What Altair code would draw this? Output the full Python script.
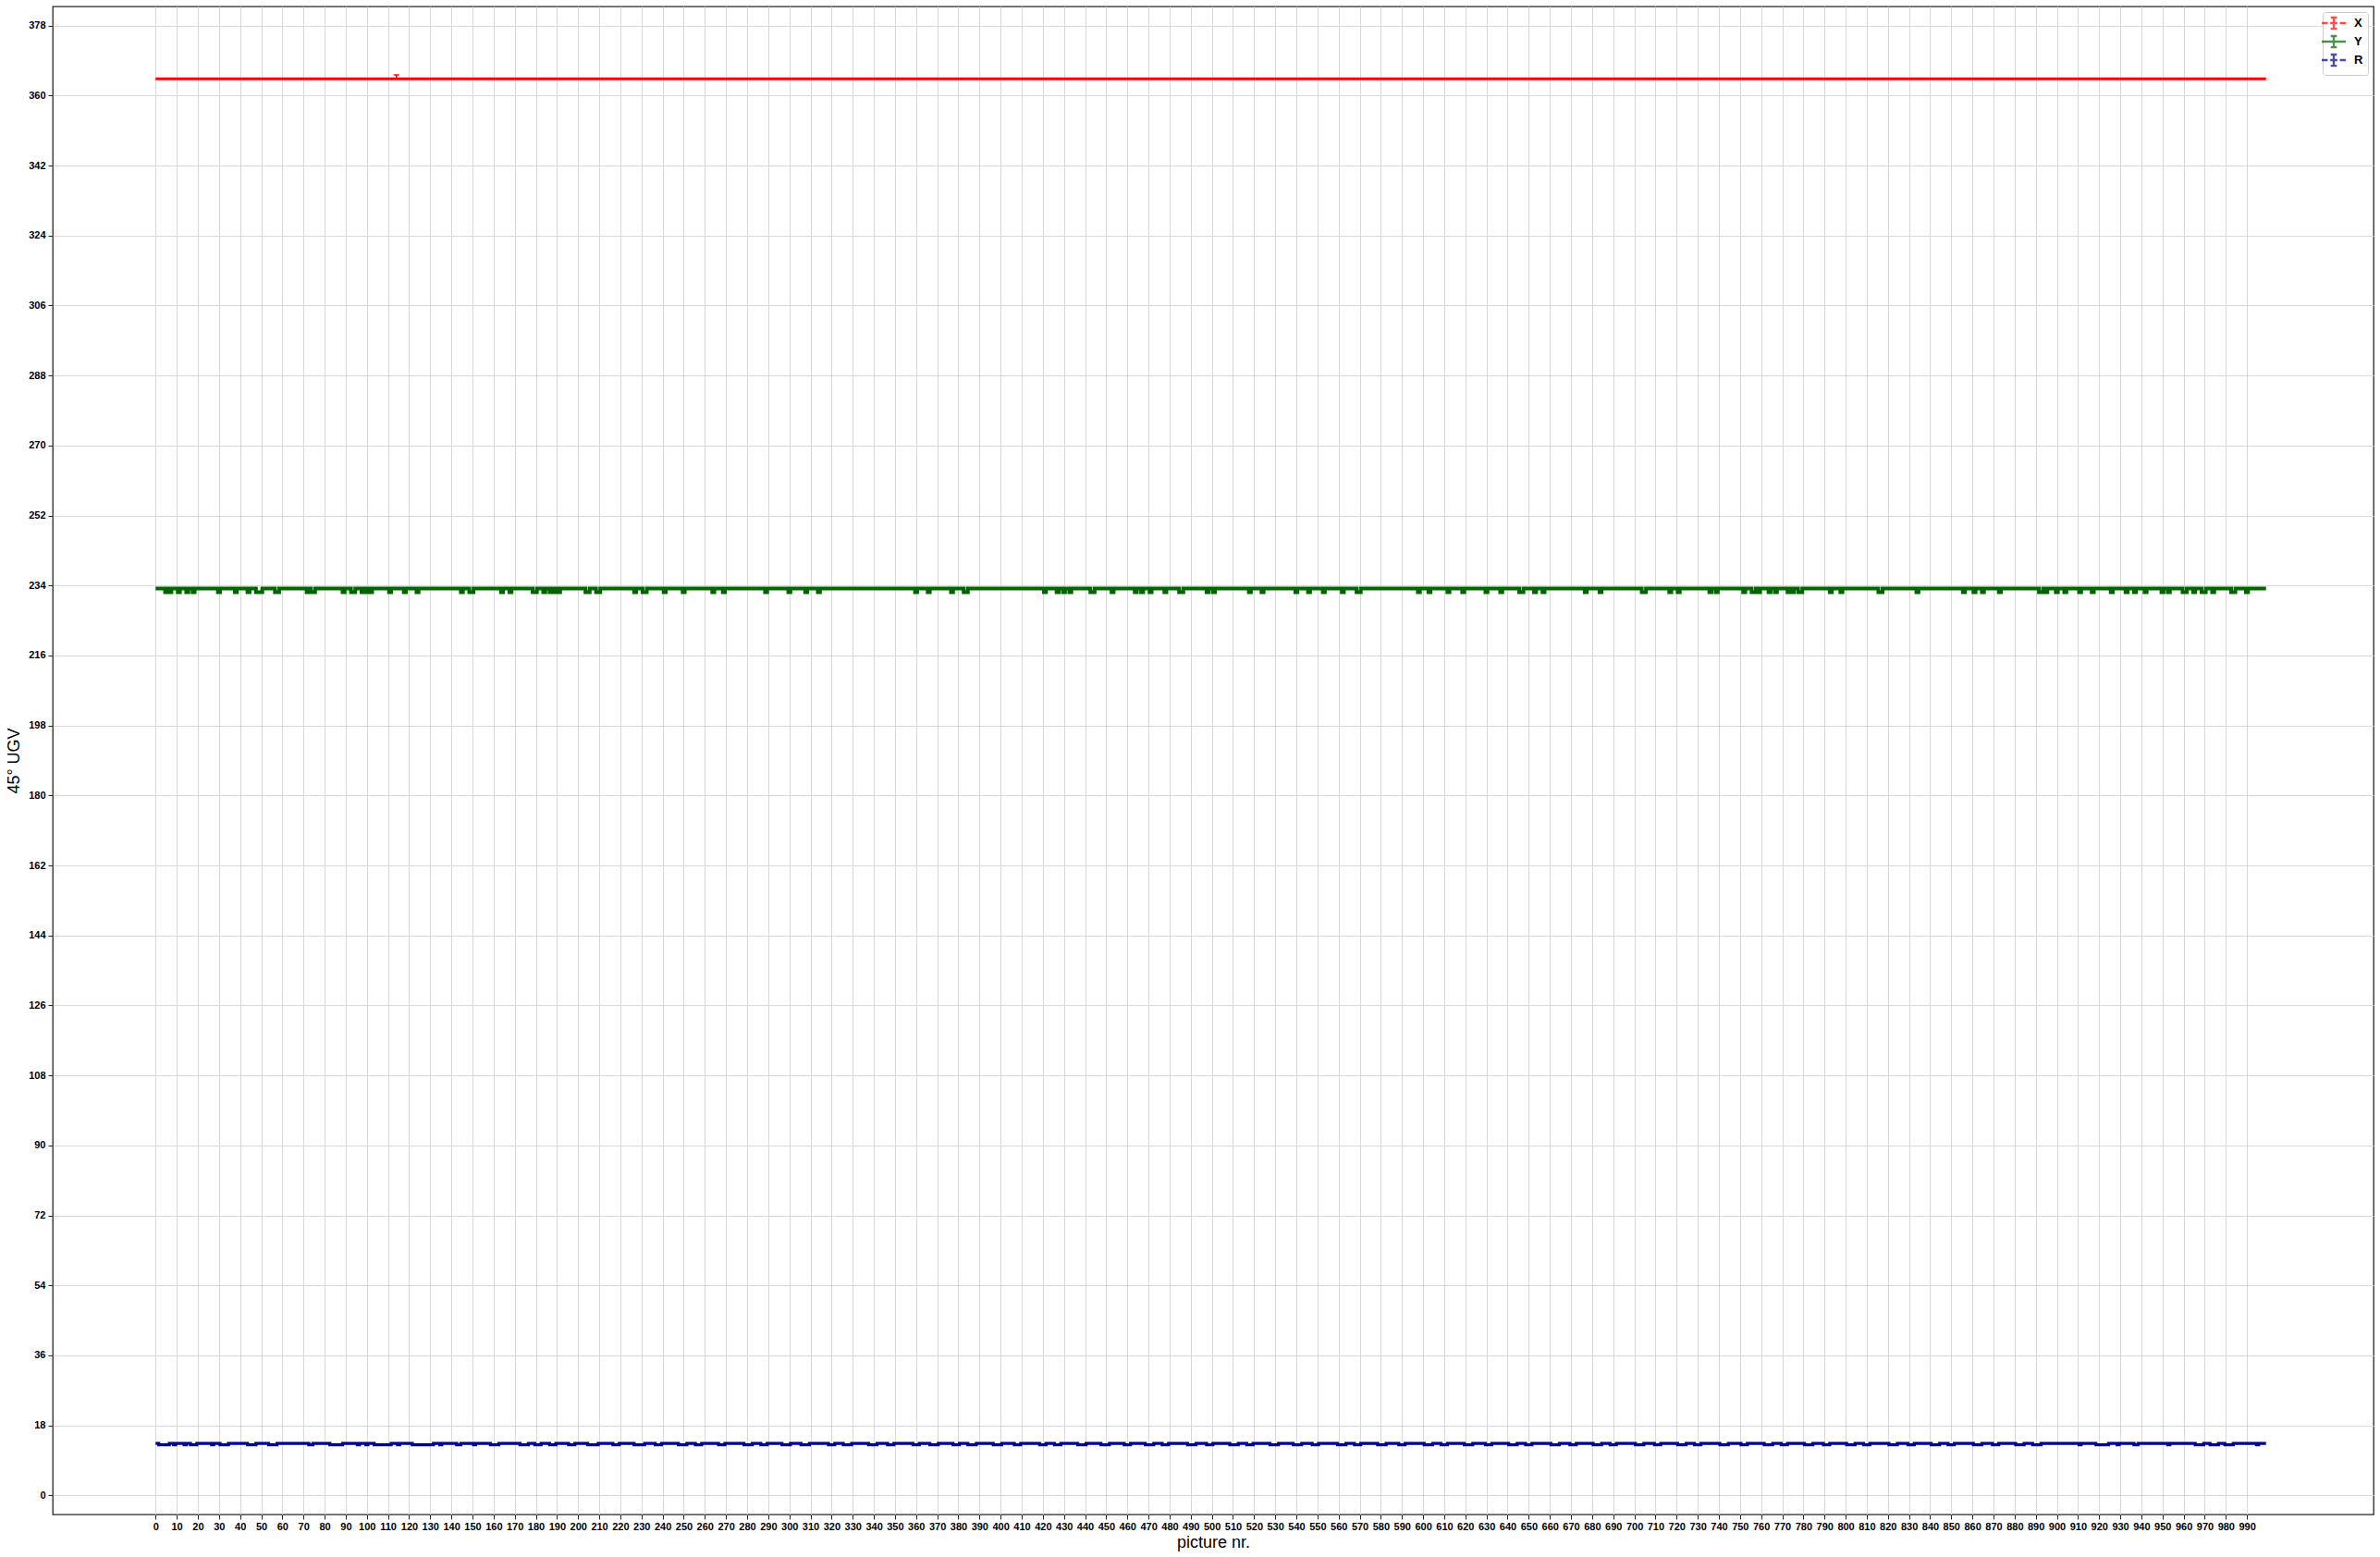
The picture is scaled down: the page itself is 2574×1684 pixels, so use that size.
import altair as alt
import pandas as pd

# ---------------- data ----------------
N_POINTS = 1000
picture_nr = list(range(N_POINTS))

series_names = ["X", "Y", "R"]
series_colors = ["#ff0000", "#006400", "#00008b"]

# X: flat level
X_LEVEL = 364.3
# one visible error bar on X
x_err_nr = [114]
x_err_up = [1.0]

# Y: flat level with short dips
Y_LEVEL = 233.25
Y_LOW = 232.3
y_dip_nr = [5, 7, 11, 15, 18, 30, 38, 44, 48, 49, 50, 57, 58, 72, 74, 75, 89, 93, 94,
            98, 100, 102, 111, 118, 124, 145, 149, 150, 164, 168, 179, 180, 184, 187,
            189, 191, 204, 205, 209, 210, 227, 231, 232, 241, 250, 264, 269, 289, 300,
            308, 314, 360, 366, 377, 383, 384, 421, 427, 430, 433, 443, 444, 453, 464,
            467, 471, 478, 485, 486, 498, 501, 518, 524, 540, 546, 553, 562, 569, 570,
            598, 603, 612, 619, 630, 637, 646, 647, 653, 657, 677, 684, 704, 705, 717,
            721, 736, 739, 752, 756, 757, 759, 764, 767, 773, 775, 778, 779, 793, 798,
            816, 817, 834, 856, 861, 865, 873, 892, 893, 895, 900, 904, 911, 917, 926,
            933, 937, 942, 950, 953, 960, 961, 965, 969, 970, 974, 983, 984, 990]

# R: alternates between two levels; runs (first, last) at the high level
R_HIGH = 13.4
R_LOW = 13.0
r_high_runs = [(0, 1), (7, 8), (10, 13), (15, 16), (20, 26), (28, 30), (35, 43), (48, 53),
               (58, 68), (69, 72), (75, 79), (80, 82), (89, 95), (97, 99), (101, 103),
               (112, 114), (116, 121), (132, 134), (136, 142), (145, 150), (152, 158),
               (163, 166), (167, 172), (177, 179), (183, 186), (190, 195), (199, 204),
               (210, 216), (220, 226), (232, 236), (240, 247), (252, 255), (259, 266),
               (270, 278), (283, 286), (290, 296), (301, 305), (310, 318), (322, 325),
               (330, 337), (342, 346), (350, 358), (362, 366), (371, 377), (381, 384),
               (389, 396), (401, 406), (410, 418), (422, 425), (429, 436), (441, 447),
               (452, 458), (462, 468), (473, 476), (480, 488), (493, 497), (501, 508),
               (513, 516), (520, 527), (532, 538), (543, 547), (551, 559), (564, 567),
               (571, 578), (583, 588), (592, 600), (605, 608), (612, 619), (624, 629),
               (633, 640), (645, 648), (652, 660), (665, 669), (673, 680), (685, 688),
               (692, 700), (705, 709), (713, 720), (725, 728), (732, 740), (745, 750),
               (754, 761), (766, 769), (773, 780), (785, 789), (793, 800), (805, 808),
               (812, 820), (825, 829), (833, 840), (845, 848), (852, 860), (865, 869),
               (873, 880), (885, 888), (893, 910), (912, 918), (925, 928), (930, 936),
               (939, 952), (954, 965), (970, 972), (977, 979), (984, 994), (996, 999)]

x_tick_values = list(range(0, 1000, 10))
y_tick_values = list(range(0, 379, 18))

# ---------------- tables ----------------
y_dip_set = set(y_dip_nr)
r_high_set = set()
for a, b in r_high_runs:
    r_high_set.update(range(a, b + 1))

df_x = pd.DataFrame({"nr": picture_nr, "value": [X_LEVEL] * N_POINTS})
df_y = pd.DataFrame({"nr": picture_nr,
                     "value": [Y_LOW if i in y_dip_set else Y_LEVEL for i in picture_nr]})
df_r = pd.DataFrame({"nr": picture_nr,
                     "value": [R_HIGH if i in r_high_set else R_LOW for i in picture_nr]})
df_err = pd.DataFrame({"nr": x_err_nr,
                       "lo": [X_LEVEL] * len(x_err_nr),
                       "hi": [X_LEVEL + e for e in x_err_up]})
df_leg = pd.DataFrame({"series": series_names,
                       "nr": [0, 0, 0],
                       "value": [X_LEVEL, Y_LEVEL, R_HIGH]})

X_DOMAIN = [-48.7, 1049.9]
Y_DOMAIN = [-4.9, 382.9]

x_axis = alt.Axis(values=x_tick_values, title="picture nr.", labelAngle=0,
                  labelOverlap=False, labelFlush=False, labelBound=False,
                  titleY=35, titleBaseline="alphabetic")
y_axis = alt.Axis(values=y_tick_values, title="45° UGV", labelOverlap=False,
                  labelFlush=False, titleX=-37, titleY=815.5,
                  titleAngle=-90, titleAlign="center", titleBaseline="alphabetic")
x_scale = alt.Scale(domain=X_DOMAIN, nice=False, zero=False)
y_scale = alt.Scale(domain=Y_DOMAIN, nice=False, zero=False)


def xe(field="nr"):
    return alt.X(f"{field}:Q", scale=x_scale, axis=x_axis)


def ye(field="value"):
    return alt.Y(f"{field}:Q", scale=y_scale, axis=y_axis)


line_x = alt.Chart(df_x).mark_line(color=series_colors[0], strokeWidth=3, clip=True,
                                   interpolate="step").encode(x=xe(), y=ye())
line_y = alt.Chart(df_y).mark_line(color=series_colors[1], strokeWidth=4, clip=True,
                                   interpolate="step").encode(x=xe(), y=ye())
line_r = alt.Chart(df_r).mark_line(color=series_colors[2], strokeWidth=3.3, clip=True,
                                   interpolate="step").encode(x=xe(), y=ye())

err_rule = alt.Chart(df_err).mark_rule(color=series_colors[0], strokeWidth=1.5).encode(
    x=xe(), y=ye("lo"), y2="hi:Q")
err_cap = alt.Chart(df_err).mark_tick(color=series_colors[0], orient="horizontal",
                                       size=6, thickness=2).encode(
    x=xe(), y=ye("hi"))

path_dash = ("M-2.37,0H-1.2M-0.7,0H0.7M1.2,0H2.37"
             "M0,-1.1V1.1M-0.6,-1.1H0.6M-0.6,1.1H0.6")
path_solid = "M-2.37,0H2.37M0,-1.1V1.1M-0.6,-1.1H0.6M-0.6,1.1H0.6"

legend_layer = alt.Chart(df_leg).mark_point(size=0, filled=False, strokeWidth=2).encode(
    x=xe(), y=ye(),
    color=alt.Color("series:N", scale=alt.Scale(domain=series_names, range=series_colors),
                    legend=alt.Legend(title=None)),
    shape=alt.Shape("series:N", scale=alt.Scale(domain=series_names,
                                                range=[path_dash, path_solid, path_dash]),
                    legend=alt.Legend(title=None)))

chart = alt.layer(line_x, line_y, line_r, err_rule, err_cap, legend_layer).properties(
    width=2510, height=1631,
    autosize=alt.AutoSizeParams(type="none"),
    padding={"left": 57, "top": 7, "right": 7, "bottom": 46},
    background="white",
).configure_view(
    stroke="#262626", strokeWidth=1.3
).configure_axis(
    labelFont="Liberation Sans", labelFontWeight="bold", labelFontSize=11,
    labelColor="#000000", labelOverlap=False,
    titleFont="Liberation Sans", titleFontWeight="normal", titleFontSize=18,
    titleColor="#000000",
    domain=False, grid=True, gridColor="#d9d9d9", gridWidth=1,
    tickColor="#262626", tickSize=5, tickWidth=1,
).configure_axisX(
    labelPadding=2
).configure_axisY(
    labelPadding=3
).configure_legend(
    orient="top-right", offset=6, fillColor="white", strokeColor="#cccccc",
    cornerRadius=3, padding=5, labelFont="Liberation Sans", labelFontWeight="bold",
    labelFontSize=13, labelColor="#000000", symbolSize=120, symbolStrokeWidth=2.3,
    labelOffset=15, rowPadding=-2,
)

chart.save("out.html", embed_options={"renderer": "svg", "actions": False})
